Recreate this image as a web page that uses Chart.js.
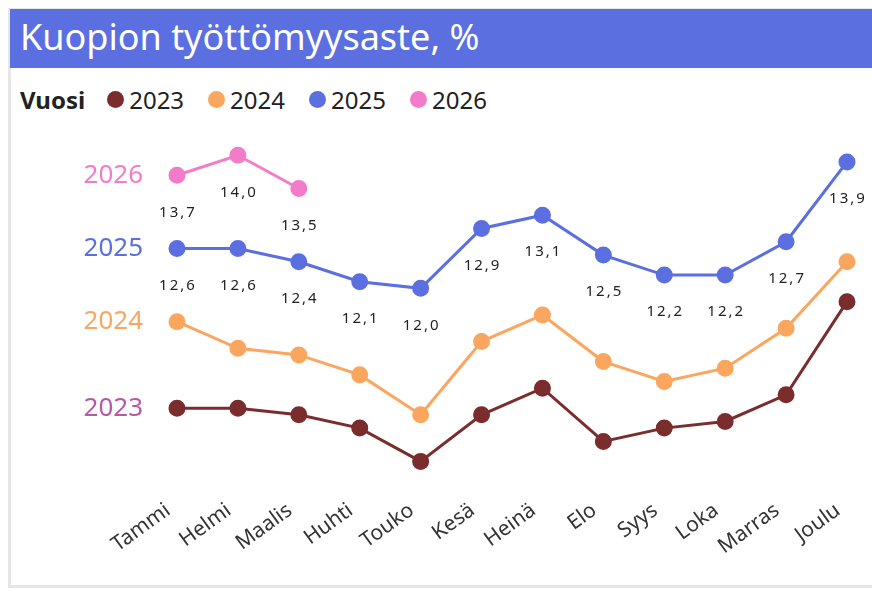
<!DOCTYPE html>
<html>
<head>
<meta charset="utf-8">
<script src="https://cdn.jsdelivr.net/npm/chart.js@4.4.1/dist/chart.umd.min.js"></script>
<style>
body { margin: 0; background: #fff; font-family: "Segoe UI", "Noto Sans", sans-serif; }
#frame { position: absolute; left: 8px; top: 8px; width: 864px; height: 580px; border-left: 3px solid #e6e6e6; border-bottom: 3px solid #e6e6e6; border-top: 1px solid #e6e6e6; box-sizing: border-box; }
#title { position: absolute; left: 10px; top: 9px; width: 862px; height: 59px; background: #5b6fe0; color: #fff; font-size: 36px; line-height: 56px; padding-left: 10px; box-sizing: border-box; }
#legend { position: absolute; left: 20px; top: 83px; font-size: 24px; color: #222; display: flex; align-items: center; }
#legend b { margin-right: 22px; }
#legend span.item { display: flex; align-items: center; margin-right: 24px; }
#legend i { display: inline-block; width: 17px; height: 17px; border-radius: 50%; margin-right: 5px; }
canvas { position: absolute; left: 0; top: 0; pointer-events: none; }
</style>
</head>
<body>
<div id="frame"></div>
<div id="title">Kuopion työttömyysaste, %</div>
<div id="legend"><b>Vuosi</b></div>
<canvas id="chart" width="872" height="591"></canvas>
<script>
const months = ['Tammi', 'Helmi', 'Maalis', 'Huhti', 'Touko', 'Kesä', 'Heinä', 'Elo', 'Syys', 'Loka', 'Marras', 'Joulu'];
const years = ['2023', '2024', '2025', '2026'];
const v2023 = [10.2, 10.2, 10.1, 9.9, 9.4, 10.1, 10.5, 9.7, 9.9, 10.0, 10.4, 11.8];
const v2024 = [11.5, 11.1, 11.0, 10.7, 10.1, 11.2, 11.6, 10.9, 10.6, 10.8, 11.4, 12.4];
const v2025 = [12.6, 12.6, 12.4, 12.1, 12.0, 12.9, 13.1, 12.5, 12.2, 12.2, 12.7, 13.9];
const v2026 = [13.7, 14.0, 13.5];
const lineColors = ['#7b2c2c', '#fba65e', '#5b6fe0', '#f27cc9'];
const nameColors = ['#b45aa6', '#fba65e', '#5b6fe0', '#f27cc9'];
const labelled = [false, false, true, true];

const legend = document.getElementById('legend');
years.forEach((y, i) => {
    const s = document.createElement('span');
    s.className = 'item';
    s.innerHTML = '<i style="background:' + lineColors[i] + '"></i>' + y;
    legend.appendChild(s);
});

const allValues = [v2023, v2024, v2025, v2026];
const datasets = allValues.map((vals, i) => ({
    label: years[i],
    data: vals,
    borderColor: lineColors[i],
    backgroundColor: lineColors[i],
    borderWidth: 3,
    pointRadius: 7,
    pointHoverRadius: 7,
    tension: 0,
    clip: false,
    order: 4 - i
}));

const fontFam = '"Segoe UI", "Noto Sans", sans-serif';

const labelPlugin = {
    id: 'labels',
    afterDatasetsDraw(chart) {
        const ctx = chart.ctx;
        ctx.save();
        chart.data.datasets.forEach((ds, i) => {
            const meta = chart.getDatasetMeta(i);
            const first = meta.data[0];
            // year name at the start of each line
            ctx.font = '26px ' + fontFam;
            ctx.letterSpacing = '0px';
            ctx.fillStyle = nameColors[i];
            ctx.textAlign = 'right';
            ctx.textBaseline = 'middle';
            ctx.fillText(ds.label, first.x - 34, first.y);
            if (!labelled[i]) return;
            ctx.font = '15px ' + fontFam;
            ctx.letterSpacing = '2px';
            ctx.fillStyle = '#222';
            ctx.textAlign = 'center';
            meta.data.forEach((pt, j) => {
                ctx.fillText(ds.data[j].toFixed(1).replace('.', ','), pt.x + 1, pt.y + 37);
            });
        });
        ctx.restore();
    }
};

new Chart(document.getElementById('chart'), {
    type: 'line',
    data: { labels: months, datasets: datasets },
    options: {
        responsive: false,
        animation: false,
        layout: { padding: { left: 177, right: 25, top: 122, bottom: 23 } },
        plugins: { legend: { display: false }, tooltip: { enabled: false } },
        scales: {
            x: {
                grid: { display: false },
                border: { display: false },
                ticks: {
                    color: '#333',
                    font: { size: 21, family: fontFam },
                    minRotation: 36,
                    maxRotation: 36,
                    padding: 2,
                    labelOffset: -9
                },
                afterFit(scale) { scale.height = 80; }
            },
            y: {
                display: false,
                min: 9.0,
                max: 14.5
            }
        }
    },
    plugins: [labelPlugin]
});
</script>
</body>
</html>
